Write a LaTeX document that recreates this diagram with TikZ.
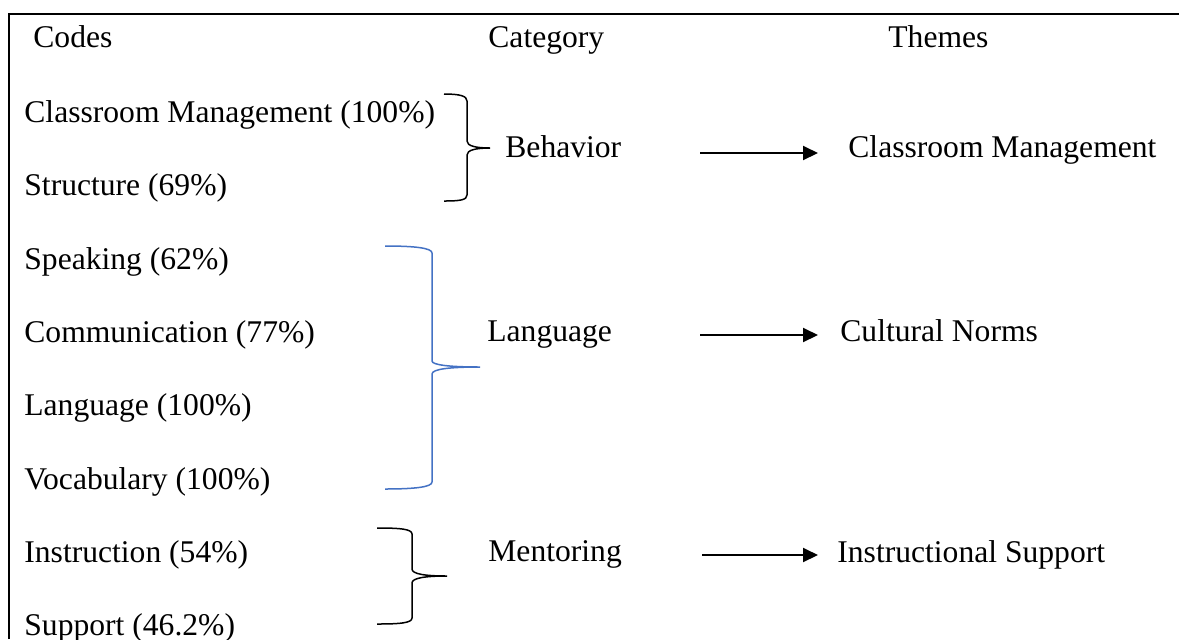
\documentclass[tikz,border=0pt]{standalone}
\usepackage{fontspec}
\setmainfont{Liberation Serif}
\usetikzlibrary{arrows.meta}

\definecolor{braceblue}{RGB}{68,114,196}

\tikzset{
  label/.style={anchor=base west, inner sep=0pt, font=\fontsize{15.8}{19}\selectfont},
  brace/.style={line width=0.75pt},
  flow/.style={line width=1pt, -{Triangle[length=7.5pt,width=7pt]}},
}

\begin{document}
\begin{tikzpicture}[x=0.5pt,y=-0.5pt]
\useasboundingbox (0,0) rectangle (1179,639);
\draw [line width=1pt] (9,639) -- (9,14) -- (1179,14);
% headings
\node [label] (codes) at (33,47) {Codes};
\node [label] (category) at (488,47) {Category};
\node [label] (themes) at (888,47) {Themes};
% codes
\node [label] (cmcode) at (24,122) {Classroom Management (100\%)};
\node [label] (structure) at (24,195) {Structure (69\%)};
\node [label] (speaking) at (24,269) {Speaking (62\%)};
\node [label] (communication) at (24,342) {Communication (77\%)};
\node [label] (langcode) at (24,415) {Language (100\%)};
\node [label] (vocabulary) at (24,489) {Vocabulary (100\%)};
\node [label] (instruction) at (24,562) {Instruction (54\%)};
\node [label] (support) at (24,635) {Support (46.2\%)};
% categories
\node [label] (behavior) at (505,157) {Behavior};
\node [label] (language) at (487,341) {Language};
\node [label] (mentoring) at (488,561) {Mentoring};
% themes
\node [label] (cmtheme) at (848,157) {Classroom Management};
\node [label] (norms) at (840,341) {Cultural Norms};
\node [label] (instsupport) at (837,562) {Instructional Support};
% braces
\draw [brace] (444,94) .. controls (460,94) and (467,96) .. (467,101) -- (467,141)
  .. controls (467,146) and (476,148) .. (490,148)
  .. controls (476,148) and (467,150) .. (467,155) -- (467,195)
  .. controls (467,200) and (460,201) .. (444,201);
\draw [brace, braceblue] (385,246) .. controls (415,246) and (432,248) .. (432,253) -- (432,361)
  .. controls (432,365) and (450,367) .. (480,367)
  .. controls (450,367) and (432,369) .. (432,374) -- (432,482)
  .. controls (432,487) and (415,489) .. (385,489);
\draw [brace] (377,528) .. controls (400,528) and (412,529) .. (412,534) -- (412,569)
  .. controls (412,574) and (425,576) .. (447,576)
  .. controls (425,576) and (412,578) .. (412,583) -- (412,618)
  .. controls (412,623) and (400,624) .. (377,624);
% arrows
\coordinate (b0) at (700,153);
\coordinate (b1) at (818,153);
\coordinate (l0) at (700,335);
\coordinate (l1) at (818,335);
\coordinate (m0) at (702,555);
\coordinate (m1) at (818,555);
\draw [flow] (b0) -- (b1);
\draw [flow] (l0) -- (l1);
\draw [flow] (m0) -- (m1);
\end{tikzpicture}
\end{document}
